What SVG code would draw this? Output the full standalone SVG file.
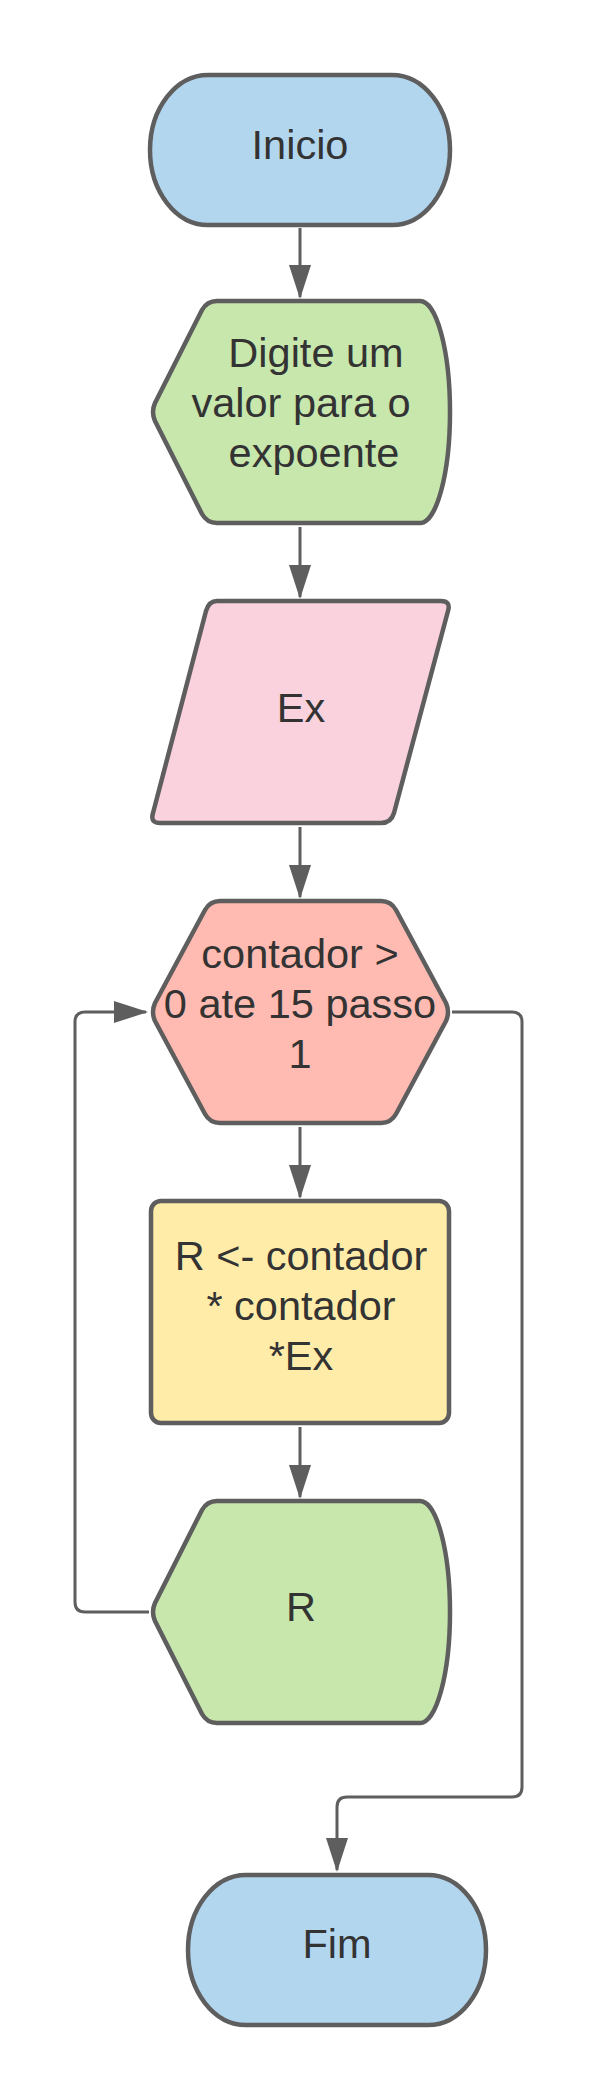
<svg xmlns="http://www.w3.org/2000/svg" width="600" height="2100" viewBox="0 0 600 2100">
<style>
.n{stroke:#5e5e5e;stroke-width:4.5;stroke-linejoin:round}
.t{font-family:"Liberation Sans",Arial,sans-serif;font-size:41.5px;fill:#333333;text-anchor:middle}
.c{fill:none;stroke:#5e5e5e;stroke-width:3}
</style>
<defs>
<marker id="ah" markerUnits="userSpaceOnUse" markerWidth="34" markerHeight="22" refX="32" refY="11" orient="auto">
<path d="M0,0 L34,11 L0,22 Z" fill="#5e5e5e"/>
</marker>
</defs>
<rect width="600" height="2100" fill="#ffffff"/>
<g id="connectors">
<path class="c" d="M300,228 L300,297" marker-end="url(#ah)"/>
<path class="c" d="M300,527 L300,597" marker-end="url(#ah)"/>
<path class="c" d="M300,827 L300,897" marker-end="url(#ah)"/>
<path class="c" d="M300,1127 L300,1197" marker-end="url(#ah)"/>
<path class="c" d="M300,1427 L300,1497" marker-end="url(#ah)"/>
<path class="c" d="M149,1612 L85,1612 Q75,1612 75,1602 L75,1022 Q75,1012 85,1012 L146,1012" marker-end="url(#ah)"/>
<path class="c" d="M452,1012 L512,1012 Q522,1012 522,1022 L522,1787 Q522,1797 512,1797 L347,1797 Q337,1797 337,1807 L337,1870" marker-end="url(#ah)"/>
</g>
<g id="inicio">
<rect class="n" x="150" y="75" width="300" height="150" rx="58" ry="75" fill="#b3d6ef"/>
<text class="t" x="300" y="159">Inicio</text>
</g>
<g id="digite">
<path class="n" fill="#c7e7ad" d="M217,301 L420,301 A30,111 0 0 1 420,523 L217,523 Q207,523 202,514 L155,421 Q151,412 155,403 L202,310 Q207,301 217,301 Z"/>
<text class="t" x="316" y="367">Digite um</text>
<text class="t" x="301" y="417">valor para o</text>
<text class="t" x="314" y="467">expoente</text>
</g>
<g id="ex">
<path class="n" fill="#f9d2de" d="M217,601 L441,601 Q451,601 448,611 L394,813 Q391,823 381,823 L160,823 Q150,823 153,813 L206,611 Q209,601 217,601 Z"/>
<text class="t" x="301" y="722">Ex</text>
</g>
<g id="contador">
<path class="n" fill="#ffbbb1" d="M220,901 L381,901 Q391,901 396,910 L446,1003 Q450,1012 446,1021 L396,1114 Q391,1123 381,1123 L220,1123 Q210,1123 205,1114 L155,1021 Q151,1012 155,1003 L205,910 Q210,901 220,901 Z"/>
<text class="t" x="300" y="968">contador &gt;</text>
<text class="t" x="300" y="1018">0 ate 15 passo</text>
<text class="t" x="300" y="1068">1</text>
</g>
<g id="calc">
<rect class="n" x="151" y="1201" width="298" height="222" rx="10" fill="#ffeca9"/>
<text class="t" x="301" y="1270">R &lt;- contador</text>
<text class="t" x="301" y="1320">* contador</text>
<text class="t" x="301" y="1370">*Ex</text>
</g>
<g id="saida">
<path class="n" fill="#c7e7ad" d="M217,1501 L420,1501 A30,111 0 0 1 420,1723 L217,1723 Q207,1723 202,1714 L155,1621 Q151,1612 155,1603 L202,1510 Q207,1501 217,1501 Z"/>
<text class="t" x="301" y="1621">R</text>
</g>
<g id="fim">
<rect class="n" x="188" y="1875" width="298" height="150" rx="58" ry="75" fill="#b3d6ef"/>
<text class="t" x="337" y="1958">Fim</text>
</g>
</svg>
